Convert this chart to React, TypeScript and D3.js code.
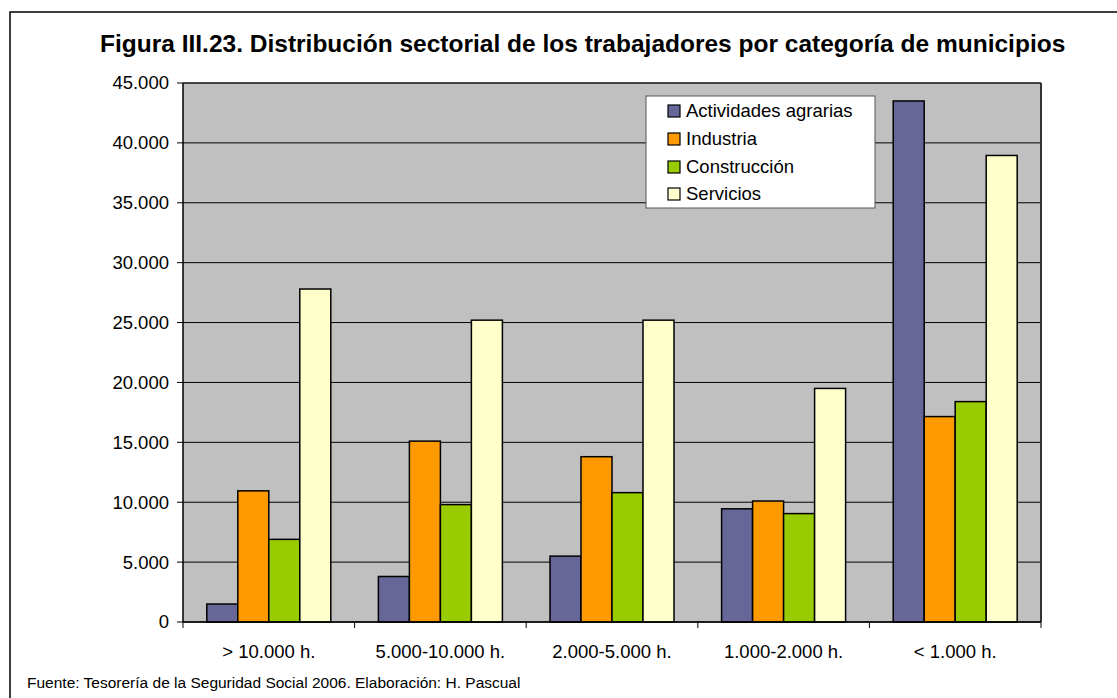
import React from "react";
import * as d3 from "d3";

const categories = ["> 10.000 h.", "5.000-10.000 h.", "2.000-5.000 h.", "1.000-2.000 h.", "< 1.000 h."];
const seriesNames = ["Actividades agrarias", "Industria", "Construcción", "Servicios"];
const agrarias = [1500, 3800, 5500, 9450, 43500];
const industria = [10950, 15100, 13800, 10100, 17150];
const construccion = [6900, 9800, 10800, 9050, 18400];
const servicios = [27800, 25200, 25200, 19500, 38950];
const seriesColors = ["#666699", "#FF9900", "#99CC00", "#FFFFCC"];
const yTicks = [0, 5000, 10000, 15000, 20000, 25000, 30000, 35000, 40000, 45000];

const title = "Figura III.23. Distribución sectorial de los trabajadores por categoría de municipios";
const footer = "Fuente: Tesorería de la Seguridad Social 2006. Elaboración: H. Pascual";

const W = 1117;
const H = 698;
const plot = { left: 183, right: 1041, top: 83, bottom: 622 };
const FONT = "'Liberation Sans', Arial, sans-serif";

const locale = d3.formatLocale({ decimal: ",", thousands: ".", grouping: [3], currency: ["", "€"] });
const fmt = locale.format(",d");

export default function App() {
  const values = [agrarias, industria, construccion, servicios];
  const x0 = d3.scaleBand<string>().domain(categories).range([plot.left, plot.right]).padding(0);
  const cw = x0.bandwidth();
  const groupPad = 23.8;
  const x1 = d3
    .scaleBand<string>()
    .domain(seriesNames)
    .range([groupPad, cw - groupPad])
    .padding(0);
  const y = d3.scaleLinear().domain([0, 45000]).range([plot.bottom, plot.top]);

  const legend = { x: 646, y: 96, w: 229, h: 112 };
  const rowY = [111, 139, 167, 194];

  const boundaries = categories.map((c) => x0(c) as number).concat([plot.right]);

  return (
    <svg
      width={W}
      height={H}
      style={{ position: "absolute", left: 0, top: 0, background: "#fff" }}
      fontFamily={FONT}
    >
      <rect x={0} y={0} width={W} height={H} fill="#fff" />
      {/* outer frame */}
      <rect x={10} y={12} width={W + 20} height={H + 20} fill="none" stroke="#000" strokeWidth={1.5} />

      <text x={100} y={52} fontSize={24.5} fontWeight="bold" fill="#000">
        {title}
      </text>

      {/* plot area */}
      <rect
        x={plot.left}
        y={plot.top}
        width={plot.right - plot.left}
        height={plot.bottom - plot.top}
        fill="#C0C0C0"
      />
      {yTicks.map((t) => (
        <line
          key={"g" + t}
          x1={plot.left}
          x2={plot.right}
          y1={y(t)}
          y2={y(t)}
          stroke="#000"
          strokeWidth={1}
        />
      ))}

      {/* bars */}
      {categories.map((c, i) => (
        <g key={c} transform={`translate(${x0(c)},0)`}>
          {seriesNames.map((s, j) => (
            <rect
              key={s}
              x={x1(s)}
              y={y(values[j][i])}
              width={x1.bandwidth()}
              height={y(0) - y(values[j][i])}
              fill={seriesColors[j]}
              stroke="#000"
              strokeWidth={1.5}
            />
          ))}
        </g>
      ))}

      {/* plot border */}
      <line x1={plot.right} x2={plot.right} y1={plot.top} y2={plot.bottom} stroke="#333" strokeWidth={2} />
      <line x1={plot.left} x2={plot.right} y1={plot.top} y2={plot.top} stroke="#333" strokeWidth={1.5} />

      {/* y axis */}
      <line x1={plot.left} x2={plot.left} y1={plot.top} y2={plot.bottom} stroke="#000" strokeWidth={1.5} />
      {yTicks.map((t) => (
        <g key={"y" + t}>
          <line x1={plot.left - 6} x2={plot.left} y1={y(t)} y2={y(t)} stroke="#000" strokeWidth={1} />
          <text x={169} y={y(t)} dy="0.35em" textAnchor="end" fontSize={18.5} fill="#000">
            {fmt(t)}
          </text>
        </g>
      ))}

      {/* x axis */}
      <line x1={plot.left} x2={plot.right} y1={plot.bottom} y2={plot.bottom} stroke="#000" strokeWidth={1.5} />
      {boundaries.map((b, i) => (
        <line key={"xt" + i} x1={b} x2={b} y1={plot.bottom} y2={plot.bottom + 6} stroke="#000" strokeWidth={1} />
      ))}
      {categories.map((c) => (
        <text
          key={"xl" + c}
          x={(x0(c) as number) + cw / 2}
          y={658}
          textAnchor="middle"
          fontSize={18.5}
          fill="#000"
        >
          {c}
        </text>
      ))}

      {/* legend */}
      <rect x={legend.x} y={legend.y} width={legend.w} height={legend.h} fill="#fff" stroke="#555" strokeWidth={1} />
      {seriesNames.map((s, j) => (
        <g key={"lg" + s}>
          <rect x={668} y={rowY[j] - 6} width={12} height={12} fill={seriesColors[j]} stroke="#000" strokeWidth={1.2} />
          <text x={686} y={rowY[j]} dy="0.35em" fontSize={18.5} fill="#000">
            {s}
          </text>
        </g>
      ))}

      <text x={27} y={688} fontSize={15.5} fill="#000">
        {footer}
      </text>
    </svg>
  );
}
